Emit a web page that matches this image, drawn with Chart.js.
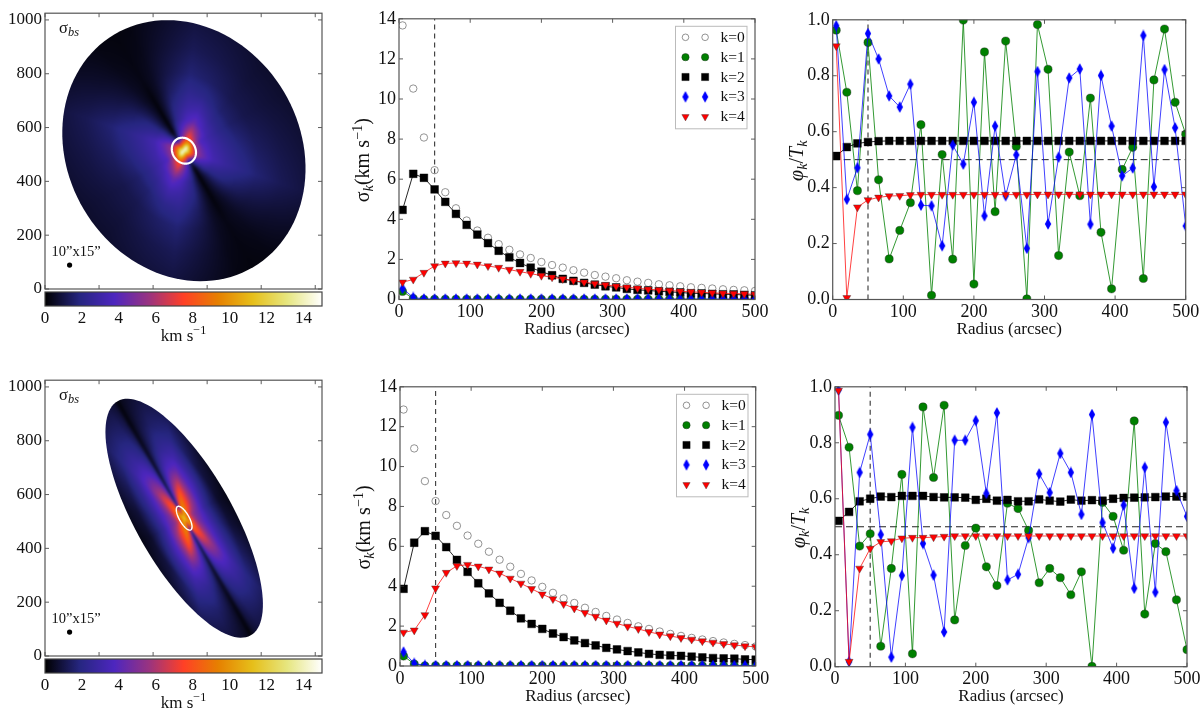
<!DOCTYPE html>
<html>
<head>
<meta charset="utf-8">
<title>sigma maps and harmonics</title>
<script src="https://cdn.jsdelivr.net/npm/chart.js@4"></script>
<style>
  html, body { margin: 0; padding: 0; background: #fff; }
  #page { position: relative; width: 1200px; height: 714px; overflow: hidden; }
  canvas { position: absolute; }
</style>
</head>
<body>
<div id="page"></div>
<script>
// radius bins, same for every line panel
const radii = [5,20,35,50,65,80,95,110,125,140,155,170,185,200,215,230,245,260,275,290,305,320,335,350,365,380,395,410,425,440,455,470,485,500];

// top row, sigma_k
const topSigma0 = [13.67,10.52,8.08,6.45,5.35,4.55,3.94,3.44,3.08,2.76,2.48,2.25,2.07,1.87,1.72,1.59,1.46,1.34,1.22,1.14,1.06,0.96,0.89,0.83,0.76,0.71,0.66,0.61,0.58,0.55,0.51,0.48,0.46,0.43];
const topSigma1 = [0.4,0.05,0.01,0.01,0.01,0.01,0.01,0.01,0.01,0.01,0.01,0.01,0.01,0.01,0.01,0.01,0.01,0.01,0.01,0.01,0.01,0.01,0.01,0.01,0.01,0.01,0.01,0.01,0.01,0.01,0.01,0.01,0.01,0.01];
const topSigma2 = [4.47,6.27,6.07,5.49,4.87,4.27,3.72,3.24,2.81,2.43,2.1,1.82,1.59,1.39,1.21,1.03,0.93,0.83,0.74,0.66,0.6,0.53,0.48,0.45,0.41,0.38,0.35,0.31,0.3,0.28,0.26,0.25,0.23,0.21];
const topSigma3 = [0.55,0.1,0.03,0.02,0.02,0.02,0.02,0.02,0.02,0.02,0.02,0.02,0.02,0.02,0.02,0.02,0.02,0.02,0.02,0.02,0.02,0.02,0.02,0.02,0.02,0.02,0.02,0.02,0.02,0.02,0.02,0.02,0.02,0.02];
const topSigma4 = [0.86,1,1.34,1.67,1.8,1.82,1.8,1.75,1.67,1.59,1.49,1.39,1.29,1.19,1.11,1.03,0.94,0.86,0.79,0.73,0.66,0.61,0.56,0.51,0.48,0.45,0.41,0.38,0.36,0.33,0.31,0.3,0.28,0.26];

// top row, phi_k / T_k
const topPhase1 = [0.963,0.741,0.389,0.919,0.428,0.145,0.247,0.346,0.625,0.015,0.518,0.144,0.999,0.055,0.885,0.314,0.924,0.547,0.002,0.983,0.823,0.157,0.527,0.371,0.72,0.24,0.038,0.465,0.544,0.075,0.785,0.967,0.705,0.591];
const topPhase2 = [0.513,0.545,0.558,0.563,0.566,0.567,0.567,0.567,0.567,0.567,0.567,0.567,0.567,0.567,0.567,0.567,0.567,0.567,0.567,0.567,0.567,0.567,0.567,0.567,0.567,0.567,0.567,0.567,0.567,0.567,0.567,0.567,0.567,0.567];
const topPhase3 = [0.979,0.358,0.471,0.951,0.86,0.728,0.688,0.77,0.337,0.335,0.192,0.552,0.484,0.705,0.299,0.62,0.371,0.517,0.183,0.815,0.27,0.509,0.792,0.824,0.269,0.801,0.62,0.442,0.47,0.944,0.403,0.822,0.614,0.263];
const topPhase4 = [0.906,0.006,0.33,0.356,0.365,0.37,0.371,0.374,0.375,0.375,0.375,0.375,0.375,0.375,0.375,0.375,0.375,0.375,0.375,0.376,0.376,0.376,0.376,0.376,0.376,0.376,0.376,0.376,0.376,0.376,0.376,0.376,0.376,0.376];

// bottom row, sigma_k
const botSigma0 = [12.86,10.91,9.27,8.27,7.57,7.03,6.54,6.13,5.73,5.33,4.98,4.62,4.29,3.97,3.67,3.39,3.16,2.92,2.71,2.51,2.33,2.16,1.99,1.86,1.73,1.61,1.51,1.41,1.33,1.25,1.18,1.11,1.05,0.98];
const botSigma1 = [0.5,0.1,0.01,0.01,0.01,0.01,0.01,0.01,0.01,0.01,0.01,0.01,0.01,0.01,0.01,0.01,0.01,0.01,0.01,0.01,0.01,0.01,0.01,0.01,0.01,0.01,0.01,0.01,0.01,0.01,0.01,0.01,0.01,0.01];
const botSigma2 = [3.87,6.18,6.76,6.53,5.96,5.32,4.72,4.15,3.64,3.17,2.77,2.39,2.11,1.86,1.63,1.45,1.28,1.15,1.03,0.91,0.83,0.75,0.68,0.61,0.56,0.53,0.51,0.47,0.43,0.4,0.38,0.37,0.33,0.32];
const botSigma3 = [0.7,0.13,0.03,0.02,0.02,0.02,0.02,0.02,0.02,0.02,0.02,0.02,0.02,0.02,0.02,0.02,0.02,0.02,0.02,0.02,0.02,0.02,0.02,0.02,0.02,0.02,0.02,0.02,0.02,0.02,0.02,0.02,0.02,0.02];
const botSigma4 = [1.68,1.79,2.56,3.9,4.68,5.02,5.08,5,4.85,4.65,4.39,4.14,3.87,3.6,3.36,3.11,2.89,2.67,2.48,2.29,2.13,1.98,1.86,1.71,1.59,1.5,1.41,1.33,1.25,1.18,1.11,1.05,1,0.96];

// bottom row, phi_k / T_k
const botPhase1 = [0.898,0.784,0.431,0.475,0.073,0.351,0.687,0.046,0.928,0.676,0.934,0.167,0.433,0.495,0.357,0.29,0.584,0.565,0.487,0.3,0.351,0.318,0.257,0.339,0.001,0.587,0.537,0.416,0.878,0.188,0.44,0.411,0.239,0.061];
const botPhase2 = [0.521,0.553,0.591,0.6,0.608,0.606,0.61,0.61,0.61,0.606,0.605,0.605,0.604,0.596,0.6,0.593,0.596,0.591,0.591,0.598,0.593,0.59,0.597,0.593,0.595,0.593,0.6,0.603,0.604,0.605,0.606,0.608,0.608,0.608];
const botPhase3 = [0.989,0.018,0.694,0.83,0.472,0.034,0.326,0.855,0.44,0.327,0.124,0.809,0.809,0.879,0.619,0.907,0.31,0.33,0.461,0.689,0.622,0.762,0.694,0.544,0.901,0.515,0.423,0.577,0.28,0.712,0.266,0.873,0.629,0.537];
const botPhase4 = [0.987,0.018,0.351,0.422,0.446,0.449,0.459,0.461,0.461,0.463,0.465,0.467,0.467,0.467,0.467,0.467,0.467,0.467,0.467,0.467,0.467,0.467,0.467,0.467,0.467,0.467,0.467,0.467,0.467,0.467,0.467,0.467,0.467,0.467];

// map samples in km/s, rows follow mapRadii, columns the angle list (deg from the major axis)
const mapRadii = [0,15,30,50,80,120,170,230,300,400,500];
const topAngles = [0,10,25,45,65,90,105,125,140,160,172];
const topMap = [
  [14.5,14.5,14.5,14.5,14.5,14.5,14.5,14.5,14.5,14.5,14.5],
  [10,10,11,12,12.5,13.5,14.5,13.5,12,11,10.5],
  [6,6.5,7.5,8.5,9,10,11,10.5,9,7.5,6.5],
  [1,2.2,4,5.6,5.5,6,7,8,6.2,3.8,1.8],
  [0.1,1.2,3,4.4,4.2,3.8,5,6.5,5,3,1.2],
  [0.1,0.9,2.2,3.3,3.1,3,3.4,4.4,3.6,2.2,0.9],
  [0.15,0.8,1.9,2.7,2.5,2.2,2.4,3.2,2.9,1.9,0.8],
  [0.2,0.6,1.4,2.2,1.9,1.5,1.6,2.2,2.3,1.4,0.6],
  [0.3,0.5,1,1.7,1.4,1.1,1.15,1.5,1.7,1,0.5],
  [0.25,0.35,0.7,1.25,1.05,0.85,0.85,1.1,1.25,0.7,0.35],
  [0.2,0.25,0.5,0.95,0.8,0.65,0.65,0.85,0.95,0.5,0.25]
];
const botAngles = [0,3,6,15,30,42,60,75,90,110,135,155,170,177];
const botMap = [
  [12,12,12,12,12,12,12,12,12,12,12,12,12,12],
  [7,7.5,8.5,9.5,10,10.5,10.5,10.5,10,10.5,11,9.5,8.5,7.5],
  [4,5,6.5,8.5,9.5,10,10,9.5,9,10,10.5,8.5,6.5,5],
  [1,2.5,4.5,7,8.5,9,9,8.5,8,9,10,7.5,4.5,2.5],
  [0.3,1.8,3.5,6,7.5,8,7.2,6.5,6,8,9.3,6.5,3.5,1.8],
  [0.5,1.6,3.2,5,6.5,7,5.8,5,5,6.8,8.3,5.5,3,1.5],
  [0.5,1.3,2.5,4,5.2,5.7,4.6,4,4.2,5.4,6.6,4.4,2.3,1.2],
  [0.5,1,2,3,4,4.3,3.4,3,2.8,3.8,4.6,3.2,1.8,0.9],
  [0.4,0.8,1.5,2.2,2.9,3.1,2.4,1.9,1.7,2.6,3.2,2.3,1.3,0.7],
  [0.2,0.5,1,1.5,1.9,2,1.3,0.8,0.6,1,2,1.5,0.9,0.5],
  [0.1,0.4,0.7,1,1.2,1.4,0.9,0.5,0.3,0.6,1.3,1,0.6,0.4]
];

// colour bar, km/s and rgb
const cbarValues = [0,1.875,3.75,5.625,7.5,9.375,11.25,13.125,15];
const cbarColors = [[0,0,0],[38,38,128],[77,38,191],[153,51,128],[255,64,38],[230,128,0],[230,191,26],[230,230,128],[255,255,255]];

// axis ticks
const mapTicks = [0,200,400,600,800,1000];
const cbarTicks = [0,2,4,6,8,10,12,14];
const radiusTicks = [0,100,200,300,400,500];
const sigmaTicks = [0,2,4,6,8,10,12,14];
const phaseTicks = [0,0.2,0.4,0.6,0.8,1];

// reference lines
const ringRadius = [50,50];
const phaseLine = [0.5,0.5];

const legendLabels = ['k=0','k=1','k=2','k=3','k=4'];
const FONT = '"Liberation Serif", serif';
const page = document.getElementById('page');

// narrow diamond marker, chart.js has no such style
function thinDiamond(color) {
  const c = document.createElement('canvas');
  c.width = 8; c.height = 12;
  const g = c.getContext('2d');
  g.beginPath();
  g.moveTo(4, 0.3); g.lineTo(7.2, 6); g.lineTo(4, 11.7); g.lineTo(0.8, 6);
  g.closePath();
  g.fillStyle = color; g.fill();
  return c;
}
const diamond = thinDiamond('#0000ff');

const kStyles = [
  { border: '#777', fill: 'rgba(0,0,0,0)', style: 'circle', radius: 3.7, rotation: 0, bw: 0.8 },
  { border: '#222', fill: '#008000', style: 'circle', radius: 4.1, rotation: 0, bw: 0.4 },
  { border: '#000', fill: '#000', style: 'rect', radius: 5.5, rotation: 0, bw: 0.4 },
  { border: '#0000ff', fill: '#0000ff', style: diamond, radius: 5, rotation: 0, bw: 0 },
  { border: '#333', fill: '#ff0000', style: 'triangle', radius: 4.6, rotation: 180, bw: 0.4 }
];
const kLines = ['#777', 'rgba(0,128,0,0.8)', 'rgba(0,0,0,0.85)', 'rgba(0,0,255,0.75)', 'rgba(255,0,0,0.75)'];

// write a mixed string: each run may be italic, smaller, raised or lowered
function richText(ctx, x, y, runs, size, angle) {
  ctx.save();
  ctx.translate(x, y);
  if (angle) ctx.rotate(angle);
  ctx.fillStyle = '#111';
  ctx.textBaseline = 'alphabetic';
  ctx.textAlign = 'left';
  let w = 0;
  const fontOf = r => `${r.italic ? 'italic ' : ''}${size * (r.scale || 1)}px ${FONT}`;
  for (const r of runs) { ctx.font = fontOf(r); w += ctx.measureText(r.t).width; }
  let cx = -w / 2;
  for (const r of runs) {
    ctx.font = fontOf(r);
    ctx.fillText(r.t, cx, r.dy || 0);
    cx += ctx.measureText(r.t).width;
  }
  ctx.restore();
}

// matplotlib look: frame plus inward ticks on all four sides
const framePlugin = {
  id: 'frame',
  afterDraw(chart, args, opts) {
    const { ctx, chartArea: a, scales } = chart;
    ctx.save();
    ctx.strokeStyle = '#333';
    ctx.lineWidth = 0.8;
    const len = 4;
    ctx.beginPath();
    for (const v of (opts.xTicks || [])) {
      const px = scales.x.getPixelForValue(v);
      ctx.moveTo(px, a.bottom); ctx.lineTo(px, a.bottom - len);
      ctx.moveTo(px, a.top); ctx.lineTo(px, a.top + len);
    }
    for (const v of (opts.yTicks || [])) {
      const py = scales.y.getPixelForValue(v);
      ctx.moveTo(a.left, py); ctx.lineTo(a.left + len, py);
      ctx.moveTo(a.right, py); ctx.lineTo(a.right - len, py);
    }
    ctx.stroke();
    ctx.strokeStyle = '#555';
    ctx.lineWidth = 1.2;
    ctx.strokeRect(a.left, a.top, a.right - a.left, a.bottom - a.top);
    ctx.restore();
  }
};

// legend with two markers per row, the built in one only does one
const twoMarkerLegend = {
  id: 'twoMarkerLegend',
  afterDatasetsDraw(chart) {
    const { ctx, chartArea: a } = chart;
    const bx = a.left + 276.5, by = a.top + 7.5;
    ctx.save();
    ctx.fillStyle = '#fff';
    ctx.strokeStyle = '#bbb';
    ctx.lineWidth = 1;
    ctx.fillRect(bx, by, 71.5, 102.5);
    ctx.strokeRect(bx, by, 71.5, 102.5);
    legendLabels.forEach((label, i) => {
      const s = kStyles[i];
      const y = by + 11 + i * 19.85;
      ctx.fillStyle = s.fill;
      ctx.strokeStyle = s.border;
      ctx.lineWidth = s.bw;
      const o = { pointStyle: s.style, radius: s.radius - 0.4, rotation: s.rotation, borderWidth: s.bw };
      Chart.helpers.drawPoint(ctx, o, bx + 10, y);
      Chart.helpers.drawPoint(ctx, o, bx + 29.6, y);
      ctx.fillStyle = '#111';
      ctx.font = `15.5px ${FONT}`;
      ctx.textBaseline = 'middle';
      ctx.textAlign = 'left';
      ctx.fillText(label, bx + 45, y + 0.5);
    });
    ctx.restore();
  }
};

const axisText = {
  id: 'axisText',
  afterDraw(chart, args, opts) {
    const { ctx, chartArea: a } = chart;
    const cy = (a.top + a.bottom) / 2;
    const cx = (a.left + a.right) / 2;
    if (opts.xTitle) richText(ctx, cx, a.bottom + 34.5, [{ t: opts.xTitle }], 17);
    if (opts.yRuns) richText(ctx, a.left - 27 - (opts.yOffset || 0), cy + 1, opts.yRuns, 20, -Math.PI / 2);
  }
};

function colorAt(v) {
  if (v <= cbarValues[0]) return cbarColors[0];
  for (let i = 1; i < cbarValues.length; i++) {
    if (v <= cbarValues[i]) {
      const t = (v - cbarValues[i - 1]) / (cbarValues[i] - cbarValues[i - 1]);
      const c0 = cbarColors[i - 1], c1 = cbarColors[i];
      return [c0[0] + (c1[0] - c0[0]) * t, c0[1] + (c1[1] - c0[1]) * t, c0[2] + (c1[2] - c0[2]) * t];
    }
  }
  return cbarColors[cbarColors.length - 1];
}

// look a value up in a radius / angle table (angles repeat every 180 deg)
function sampleMap(table, angles, R, deg) {
  let r1 = 1;
  while (r1 < mapRadii.length - 1 && mapRadii[r1] < R) r1++;
  const tr = Math.min(1, (R - mapRadii[r1 - 1]) / (mapRadii[r1] - mapRadii[r1 - 1]));
  let a1 = 0;
  while (a1 < angles.length && angles[a1] < deg) a1++;
  const a0 = a1 - 1;
  const ang0 = a0 < 0 ? angles[angles.length - 1] - 180 : angles[a0];
  const ang1 = a1 >= angles.length ? angles[0] + 180 : angles[a1];
  const i0 = (a0 + angles.length) % angles.length, i1 = a1 % angles.length;
  const ta = (deg - ang0) / (ang1 - ang0 || 1);
  const row0 = table[r1 - 1], row1 = table[r1];
  const v0 = row0[i0] + (row0[i1] - row0[i0]) * ta;
  const v1 = row1[i0] + (row1[i1] - row1[i0]) * ta;
  return v0 + (v1 - v0) * tr;
}

// paints the disc from the table through the chart's scales
const discPlugin = {
  id: 'disc',
  beforeDatasetsDraw(chart, args, opts) {
    const { ctx, chartArea: a, scales: { x, y } } = chart;
    const w = Math.round(a.right - a.left), h = Math.round(a.bottom - a.top);
    const off = document.createElement('canvas');
    off.width = w; off.height = h;
    const g = off.getContext('2d');
    const img = g.createImageData(w, h);
    const th = opts.pa * Math.PI / 180;
    const c = Math.cos(th), s = Math.sin(th);
    for (let j = 0; j < h; j++) {
      for (let i = 0; i < w; i++) {
        const dx = x.getValueForPixel(a.left + i + 0.5) - opts.cx;
        const dy = y.getValueForPixel(a.top + j + 0.5) - opts.cy;
        const u = (dx * c + dy * s) / opts.a;
        const v = (-dx * s + dy * c) / opts.b;
        const rho = Math.hypot(u, v);
        // paint a bit past the edge, the clip below cuts it clean
        if (rho > 1.1) continue;
        let deg = Math.atan2(v, u) * 180 / Math.PI;
        if (deg < 0) deg += 180;
        if (deg >= 180) deg -= 180;
        const rgb = colorAt(sampleMap(opts.table, opts.angles, Math.min(rho * 500, 500), deg));
        const k = (j * w + i) * 4;
        img.data[k] = rgb[0]; img.data[k + 1] = rgb[1]; img.data[k + 2] = rgb[2];
        img.data[k + 3] = 255;
      }
    }
    g.putImageData(img, 0, 0);

    const ellipsePath = (ra, rb) => {
      ctx.beginPath();
      for (let t = 0; t <= 120; t++) {
        const p = t / 120 * 2 * Math.PI;
        const ua = ra * Math.cos(p), vb = rb * Math.sin(p);
        const px = x.getPixelForValue(opts.cx + ua * c - vb * s);
        const py = y.getPixelForValue(opts.cy + ua * s + vb * c);
        if (t === 0) ctx.moveTo(px, py); else ctx.lineTo(px, py);
      }
      ctx.closePath();
    };

    ctx.save();
    ellipsePath(opts.a, opts.b);
    ctx.clip();
    ctx.filter = 'blur(0.8px)';
    ctx.drawImage(off, a.left, a.top);
    ctx.restore();
    // white 50 arcsec ring
    ctx.save();
    ctx.strokeStyle = '#fff';
    ctx.lineWidth = opts.ringWidth;
    ellipsePath(ringRadius[0], ringRadius[1] * (opts.b / opts.a));
    ctx.stroke();
    ctx.restore();
    richText(ctx, a.left + 24, a.top + 20, [{ t: 'σ' }, { t: 'bs', italic: true, scale: 0.75, dy: 3 }], 16.5);
    richText(ctx, a.left + 31, a.bottom - 33, [{ t: '10”x15”' }], 14.5);
  }
};

const cbarPlugin = {
  id: 'cbar',
  beforeDatasetsDraw(chart) {
    const { ctx, chartArea: a, scales: { x } } = chart;
    const grad = ctx.createLinearGradient(a.left, 0, a.right, 0);
    cbarValues.forEach((v, i) => {
      const c = cbarColors[i];
      grad.addColorStop((x.getPixelForValue(v) - a.left) / (a.right - a.left), `rgb(${c[0]},${c[1]},${c[2]})`);
    });
    ctx.fillStyle = grad;
    ctx.fillRect(a.left, a.top, a.right - a.left, a.bottom - a.top);
    richText(ctx, (a.left + a.right) / 2, a.bottom + 35, [{ t: 'km s' }, { t: '−1', scale: 0.72, dy: -7 }], 17);
  },
  afterDraw(chart) {
    const { ctx, chartArea: a } = chart;
    ctx.save();
    ctx.strokeStyle = '#444';
    ctx.lineWidth = 1.2;
    ctx.strokeRect(a.left, a.top, a.right - a.left, a.bottom - a.top);
    ctx.restore();
  }
};

// canvas around a plot rectangle; axis sizes are forced so the plot lands exactly there
function makeChart(rect, config, xOpts, yOpts) {
  const left = Math.floor(rect.x) - 50, top = Math.floor(rect.y) - 12;
  const yw = rect.x - left, pad = rect.y - top;
  const W = Math.ceil(yw + rect.w + 22), H = Math.ceil(pad + rect.h + 50);
  const cv = document.createElement('canvas');
  cv.width = W; cv.height = H;
  cv.style.left = left + 'px'; cv.style.top = top + 'px';
  cv.style.width = W + 'px'; cv.style.height = H + 'px';
  page.appendChild(cv);
  const tickFont = { family: FONT, size: xOpts.fontSize || 18 };
  const noGrid = { display: false, drawTicks: false };
  config.options = Object.assign({
    responsive: false, animation: false, devicePixelRatio: 1,
    events: [],
    layout: { padding: { top: pad, right: W - yw - rect.w, left: 0, bottom: 0 } },
    scales: {
      x: {
        type: 'linear', grid: noGrid, border: { display: false },
        afterFit(s) { s.height = H - pad - rect.h; },
        afterBuildTicks(s) { s.ticks = xOpts.values.map(v => ({ value: v })); },
        min: xOpts.min, max: xOpts.max,
        ticks: { display: xOpts.labels !== false, autoSkip: false, maxRotation: 0, minRotation: 0, padding: 2, color: '#111', font: tickFont, callback: xOpts.format || (v => v) }
      },
      y: {
        type: 'linear', grid: noGrid, border: { display: false },
        afterFit(s) { s.width = yw; },
        afterBuildTicks(s) { s.ticks = yOpts.values.map(v => ({ value: v })); },
        min: yOpts.min, max: yOpts.max,
        ticks: { display: yOpts.labels !== false, autoSkip: false, padding: 3, color: '#111', font: tickFont, callback: yOpts.format || (v => v) }
      }
    }
  }, config.options || {});
  return new Chart(cv, config);
}

function kSeries(k, values) {
  const s = kStyles[k];
  return {
    label: legendLabels[k],
    data: radii.map((r, i) => ({ x: r, y: values[i] })),
    showLine: k !== 0,
    borderColor: kLines[k], borderWidth: 1, tension: 0,
    pointStyle: s.style, pointRadius: s.radius, pointRotation: s.rotation,
    pointBackgroundColor: s.fill, pointBorderColor: s.border, pointBorderWidth: s.bw,
    order: 4 - k, clip: 0
  };
}

function refLine(points, color, dash, width) {
  return {
    data: points, showLine: true, pointRadius: 0, tension: 0,
    borderColor: color, borderWidth: width || 1, borderDash: dash, order: 9, clip: 0
  };
}

function linePanel(rect, series, yCfg, extra, withLegend) {
  const datasets = series.map((vals, k) => vals ? kSeries(k, vals) : null).filter(Boolean);
  datasets.push(refLine([{ x: 50, y: yCfg.min }, { x: 50, y: yCfg.max }], '#444', [5, 4], 1.2));
  if (extra) datasets.push(extra);
  const plugins = [framePlugin, axisText];
  if (withLegend) plugins.push(twoMarkerLegend);
  makeChart(rect, {
    type: 'scatter', data: { datasets }, plugins,
    options: {
      plugins: {
        legend: { display: false }, tooltip: { enabled: false },
        frame: { xTicks: radiusTicks, yTicks: yCfg.values },
        axisText: { xTitle: 'Radius (arcsec)', yRuns: yCfg.runs, yOffset: yCfg.yOffset }
      }
    }
  }, { min: 0, max: 500, values: radiusTicks }, yCfg);
}

function mapPanel(rect, disc) {
  makeChart(rect, {
    type: 'scatter',
    data: { datasets: [{ data: [{ x: disc.beamX, y: disc.beamY }], pointRadius: 2.6, pointBackgroundColor: '#000', pointBorderWidth: 0 }] },
    plugins: [discPlugin, framePlugin],
    options: {
      plugins: {
        legend: { display: false }, tooltip: { enabled: false },
        disc, frame: { xTicks: mapTicks, yTicks: mapTicks }
      }
    }
  }, { min: 0, max: 1025, values: mapTicks, labels: false, fontSize: 17 }, { min: 0, max: 1025, values: mapTicks });
}

function colorBar(rect) {
  makeChart(rect, {
    type: 'scatter', data: { datasets: [] }, plugins: [cbarPlugin],
    options: { plugins: { legend: { display: false }, tooltip: { enabled: false } } }
  }, { min: 0, max: 15, values: cbarTicks, fontSize: 17 }, { min: 0, max: 1, values: [], labels: false });
}

const sigmaRuns = [{ t: 'σ' }, { t: 'k', italic: true, scale: 0.72, dy: 4 }, { t: '(km s' }, { t: '−1', scale: 0.72, dy: -7 }, { t: ')' }];
const phaseRuns = [{ t: 'φ', italic: true }, { t: 'k', italic: true, scale: 0.72, dy: 4 }, { t: '/' }, { t: 'T', italic: true }, { t: 'k', italic: true, scale: 0.72, dy: 4 }];
const sigmaAxis = { min: 0, max: 14, values: sigmaTicks, runs: sigmaRuns, yOffset: 3 };
const phaseAxis = { min: 0, max: 1, values: phaseTicks, runs: phaseRuns, yOffset: 3, format: v => v.toFixed(1) };

mapPanel({ x: 45, y: 12.7, w: 277, h: 276.3 }, { table: topMap, angles: topAngles, cx: 514, cy: 514, a: 503, b: 430, pa: 120.6, ringWidth: 2.2, beamX: 91, beamY: 89 });
colorBar({ x: 45, y: 292, w: 277, h: 14 });
linePanel({ x: 399, y: 17.3, w: 356, h: 282.2 }, [topSigma0, topSigma1, topSigma2, topSigma3, topSigma4], sigmaAxis, null, true);
linePanel({ x: 832.7, y: 18, w: 353, h: 281.5 }, [null, topPhase1, topPhase2, topPhase3, topPhase4], phaseAxis,
  refLine([{ x: 0, y: phaseLine[0] }, { x: 500, y: phaseLine[1] }], '#222', [7, 4]), false);

mapPanel({ x: 45, y: 379.3, w: 277, h: 276.7 }, { table: botMap, angles: botAngles, cx: 515, cy: 512, a: 500, b: 179, pa: 119.5, ringWidth: 1.4, beamX: 91, beamY: 89 });
colorBar({ x: 45, y: 659, w: 277, h: 14 });
linePanel({ x: 400, y: 385, w: 355.7, h: 281 }, [botSigma0, botSigma1, botSigma2, botSigma3, botSigma4], sigmaAxis, null, true);
linePanel({ x: 835, y: 385, w: 352, h: 281.7 }, [null, botPhase1, botPhase2, botPhase3, botPhase4], phaseAxis,
  refLine([{ x: 0, y: phaseLine[0] }, { x: 500, y: phaseLine[1] }], '#222', [7, 4]), false);
</script>
</body>
</html>
